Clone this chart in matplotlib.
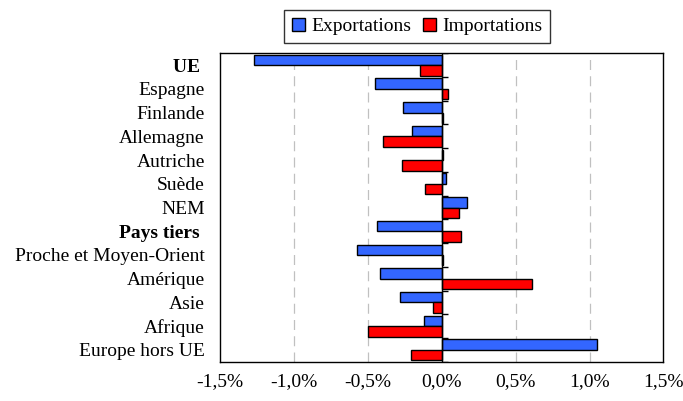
import numpy as np
import matplotlib.pyplot as plt

# categories, top to bottom
categories = ['UE ', 'Espagne', 'Finlande', 'Allemagne', 'Autriche', 'Suède',
              'NEM', 'Pays tiers ', 'Proche et Moyen-Orient', 'Amérique',
              'Asie', 'Afrique', 'Europe hors UE']
bold_labels = ['UE ', 'Pays tiers ']

# contributions in %
exportations = [-1.27, -0.45, -0.26, -0.20, 0.01, 0.03,
                0.17, -0.44, -0.57, -0.42, -0.28, -0.12, 1.05]
importations = [-0.15, 0.04, 0.01, -0.40, -0.27, -0.11,
                0.12, 0.13, 0.01, 0.61, -0.06, -0.50, -0.21]

xticks = [-1.5, -1.0, -0.5, 0.0, 0.5, 1.0, 1.5]
xticklabels = ['-1,5%', '-1,0%', '-0,5%', '0,0%', '0,5%', '1,0%', '1,5%']

plt.rcParams['font.family'] = ['Liberation Serif', 'DejaVu Serif']

fig = plt.figure(figsize=(6.83, 4.01), dpi=100)
ax = fig.add_axes([0.3221, 0.098, 0.6493, 0.769])

y = np.arange(len(categories))
h = 0.44
ax.barh(y - h / 2, exportations, height=h, color='#3366FF',
        edgecolor='black', linewidth=1, label='Exportations', zorder=3)
ax.barh(y + h / 2, importations, height=h, color='#FF0000',
        edgecolor='black', linewidth=1, label='Importations', zorder=3)

ax.set_xlim(-1.5, 1.5)
ax.set_ylim(len(categories) - 0.5, -0.5)

# grid and zero axis
for x in xticks[1:-1]:
    if x != 0:
        ax.axvline(x, color='#c0c0c0', linestyle=(0, (8, 5)), linewidth=0.9,
                   zorder=1)
ax.axvline(0, color='black', linewidth=1, zorder=4)
# small tick marks at category boundaries on the zero axis
bounds = np.arange(len(categories) + 1) - 0.5
ax.hlines(bounds, 0, 0.045, color='black', linewidth=1, zorder=4)

ax.set_xticks(xticks)
ax.set_xticklabels(xticklabels, fontsize=14)
ax.set_yticks(y)
ax.set_yticklabels(categories, fontsize=14)
for lab in ax.get_yticklabels():
    if lab.get_text() in bold_labels:
        lab.set_fontweight('bold')
ax.tick_params(axis='both', length=0)
ax.tick_params(axis='y', pad=11)
ax.tick_params(axis='x', pad=8)

for s in ax.spines.values():
    s.set_linewidth(1)
    s.set_color('black')

ax.legend(loc='lower center', bbox_to_anchor=(0.444, 1.02), ncol=2,
          fontsize=14, frameon=True, fancybox=False, edgecolor='black',
          handlelength=0.7, handleheight=0.7, handletextpad=0.3,
          columnspacing=0.6, borderpad=0.4, borderaxespad=0.2)
ax.get_legend().get_frame().set_linewidth(1)

plt.savefig('out.png', dpi=100)
